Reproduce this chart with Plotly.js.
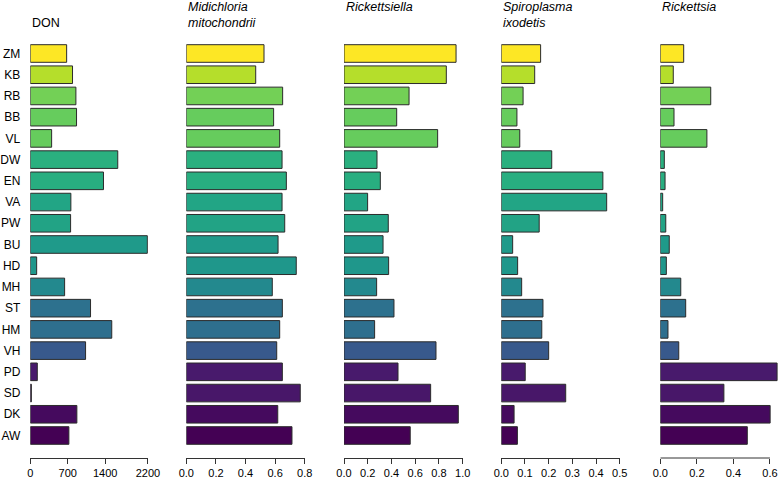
<!DOCTYPE html>
<html>
<head>
<meta charset="utf-8">
<script src="https://cdn.plot.ly/plotly-3.0.1.min.js"></script>
<style>html,body{margin:0;padding:0;background:#fff}#chart{width:780px;height:478px}</style>
</head>
<body>
<div id="chart"></div>
<script>
// Sites (top to bottom)
const sites = ["ZM","KB","RB","BB","VL","DW","EN","VA","PW","BU","HD","MH","ST","HM","VH","PD","SD","DK","AW"];
// Bar fill colours per site (viridis groups)
const siteColors = ["#FDE725","#B5DE2B","#73D056","#66CC5D","#66CC5D","#2AB07F","#28AE80","#22A585","#22A385","#1F9A8A","#1F978B","#23898E","#2D718E","#2E6F8E","#38598C","#481A6C","#481769","#450A5E","#440154"];

// Panel titles
const panelTitles = ["DON","<i>Midichloria</i><br><i>mitochondrii</i>","<i>Rickettsiella</i>","<i>Spiroplasma</i><br><i>ixodetis</i>","<i>Rickettsia</i>"];

// Series values
const DON =            [680, 790, 853, 865, 399, 1636, 1369, 759, 754, 2190, 119, 642, 1127, 1524, 1034, 131, 20, 871, 722];
const midichloria =    [0.525,0.469,0.651,0.590,0.631,0.647,0.676,0.647,0.665,0.620,0.743,0.581,0.649,0.631,0.611,0.649,0.770,0.618,0.714];
const rickettsiella =  [0.944,0.862,0.548,0.444,0.789,0.278,0.306,0.199,0.373,0.329,0.376,0.275,0.421,0.258,0.775,0.455,0.730,0.963,0.558];
const spiroplasma =    [0.166,0.141,0.092,0.066,0.078,0.213,0.429,0.445,0.160,0.048,0.069,0.086,0.176,0.171,0.200,0.101,0.272,0.054,0.068];
const rickettsia =     [0.128,0.071,0.276,0.075,0.255,0.022,0.026,0.013,0.030,0.049,0.033,0.112,0.139,0.042,0.101,0.639,0.348,0.601,0.476];

// Tick values per panel
const ticksDON = [0,700,1400,2200];
const ticksMid = [0,0.2,0.4,0.6,0.8];
const ticksRla = [0,0.2,0.4,0.6,0.8,1.0];
const ticksSpi = [0,0.1,0.2,0.3,0.4,0.5];
const ticksRia = [0,0.2,0.4,0.6];

const series = [DON, midichloria, rickettsiella, spiroplasma, rickettsia];
const tickSets = [ticksDON, ticksMid, ticksRla, ticksSpi, ticksRia];
const ranges = [[0,2200],[0,0.8],[0,1.0],[0,0.5],[0,0.644]];
const W = 780;
const TOP = 38, BOTTOM = 458, H = BOTTOM - TOP;
const domainsPx = [[30.3,147.9],[186.3,304.7],[344,462.7],[501.3,619.7],[660.3,778]];

const traces = series.map((vals, k) => ({
  type: "bar",
  orientation: "h",
  x: vals,
  y: sites,
  xaxis: k === 0 ? "x" : "x" + (k + 1),
  yaxis: "y",
  marker: {color: siteColors, line: {color: "#2b2b2b", width: 1}},
  hoverinfo: "x+y",
  showlegend: false
}));

const layout = {
  width: 780, height: 478,
  margin: {l: 0, r: 0, t: TOP, b: 478 - BOTTOM},
  paper_bgcolor: "#fff", plot_bgcolor: "#fff",
  bargap: 0.17,
  font: {family: "Liberation Sans, Arial, sans-serif", color: "#000"},
  yaxis: {
    type: "category", categoryorder: "array", categoryarray: sites,
    range: [19.060, -0.730], anchor: "x",
    showgrid: false, zeroline: false, showline: false,
    ticks: "", ticklabelstandoff: 9,
    tickfont: {size: 12, color: "#000"}
  },
  annotations: [],
  shapes: []
};

const titleY = [ (BOTTOM-23.3)/H, (BOTTOM-15.3)/H, (BOTTOM-7.3)/H, (BOTTOM-15.3)/H, (BOTTOM-7.3)/H ];

for (let k = 0; k < 5; k++) {
  const name = k === 0 ? "xaxis" : "xaxis" + (k + 1);
  const ref = k === 0 ? "x" : "x" + (k + 1);
  layout[name] = {
    domain: [domainsPx[k][0] / W, domainsPx[k][1] / W],
    range: ranges[k],
    anchor: "y",
    showgrid: false, zeroline: false,
    showline: k !== 4, linecolor: "#333", linewidth: 1,
    ticks: "outside", ticklen: 5, tickcolor: "#333", tickwidth: 1,
    ticklabelstandoff: 0,
    tickvals: tickSets[k],
    tickformat: k === 0 ? "d" : ".1f",
    tickfont: {size: 11, color: "#000"},
    automargin: false, fixedrange: true
  };
  layout.annotations.push({
    xref: ref + " domain", yref: "paper",
    x: 0, y: titleY[k], xanchor: "left", yanchor: "middle",
    text: panelTitles[k], showarrow: false, align: "left",
    font: {size: 12.5, color: "#000"}
  });
}
// Axis line for the last panel spans only the ticked interval
layout.shapes.push({
  type: "line", xref: "x5", yref: "paper",
  x0: ticksRia[0], x1: ticksRia[ticksRia.length - 1], y0: 0, y1: 0,
  line: {color: "#333", width: 1}
});

Plotly.newPlot("chart", traces, layout, {displayModeBar: false, staticPlot: true});
</script>
</body>
</html>
